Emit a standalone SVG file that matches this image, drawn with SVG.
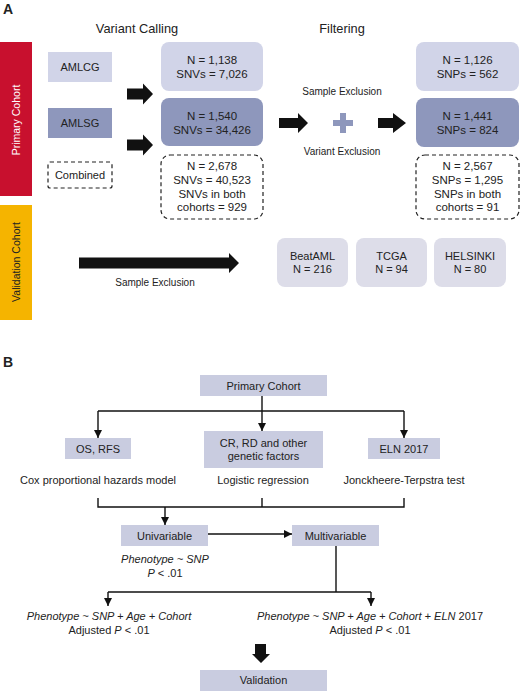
<svg xmlns="http://www.w3.org/2000/svg" width="520" height="691" viewBox="0 0 520 691">
<defs>
<style>
text{font-family:"Liberation Sans",Arial,sans-serif;fill:#222;}
.t{font-size:11.5px;text-anchor:middle;}
.s{font-size:11px;text-anchor:middle;}
.h{font-size:12.8px;text-anchor:middle;}
.ex{font-size:10px;text-anchor:middle;}
.lt{fill:#d1d4e8;}
.dk{fill:#8e97bc;}
.vb{fill:#dddde9;}
.pb{fill:#c9cce0;}
.dash{fill:none;stroke:#222;stroke-width:1.2;stroke-dasharray:4 3;}
.ln{fill:none;stroke:#111;stroke-width:1.4;}
.blk{fill:#111;}
.i{font-style:italic;}
</style>
<marker id="ah" viewBox="0 0 8 8" refX="8" refY="4" markerWidth="8" markerHeight="8" markerUnits="userSpaceOnUse" orient="auto">
<path d="M0,0 L8,4 L0,8 z" fill="#111"/>
</marker>
</defs>
<rect width="520" height="691" fill="#fff"/>

<!-- Panel A -->
<text x="3" y="14" style="font-size:14px;font-weight:bold">A</text>
<text class="h" x="137" y="33">Variant Calling</text>
<text class="h" x="342" y="33">Filtering</text>

<g id="primary-bar">
<rect x="0" y="42" width="32" height="154" fill="#c8102e"/>
<text transform="translate(20,120) rotate(-90)" style="font-size:10.5px;text-anchor:middle;fill:#fff">Primary Cohort</text>
</g>
<g id="validation-bar">
<rect x="0" y="205" width="32" height="115" fill="#f5b400"/>
<text transform="translate(20,262) rotate(-90)" style="font-size:10.5px;text-anchor:middle">Validation Cohort</text>
</g>

<g id="amlcg"><rect class="lt" x="48" y="52" width="64" height="30"/><text class="s" x="80" y="71">AMLCG</text></g>
<g id="amlsg"><rect class="dk" x="48" y="108" width="64" height="30"/><text class="s" x="80" y="127">AMLSG</text></g>
<g id="combined"><rect class="dash" x="48" y="162" width="64" height="26" rx="2"/><text class="s" x="80" y="179">Combined</text></g>

<g id="vc-amlcg"><rect class="lt" x="161" y="42" width="102" height="49" rx="8"/><text class="t" x="212" y="64">N = 1,138</text><text class="t" x="212" y="78">SNVs = 7,026</text></g>
<g id="vc-amlsg"><rect class="dk" x="161" y="98" width="102" height="48" rx="8"/><text class="t" x="212" y="120">N = 1,540</text><text class="t" x="212" y="134">SNVs = 34,426</text></g>
<g id="vc-combined"><rect class="dash" x="161" y="155" width="102" height="64" rx="9"/><text class="t" x="212" y="170">N = 2,678</text><text class="t" x="212" y="184">SNVs = 40,523</text><text class="t" x="212" y="198">SNVs in both</text><text class="t" x="212" y="211">cohorts = 929</text></g>

<g id="f-amlcg"><rect class="lt" x="416" y="42" width="103" height="49" rx="8"/><text class="t" x="467.5" y="64">N = 1,126</text><text class="t" x="467.5" y="78">SNPs = 562</text></g>
<g id="f-amlsg"><rect class="dk" x="416" y="98" width="103" height="49" rx="8"/><text class="t" x="467.5" y="120">N = 1,441</text><text class="t" x="467.5" y="134">SNPs = 824</text></g>
<g id="f-combined"><rect class="dash" x="416" y="155" width="103" height="64" rx="9"/><text class="t" x="467.5" y="170">N = 2,567</text><text class="t" x="467.5" y="184">SNPs = 1,295</text><text class="t" x="467.5" y="198">SNPs in both</text><text class="t" x="467.5" y="211">cohorts = 91</text></g>

<g id="filter-labels">
<text class="ex" x="342" y="95">Sample Exclusion</text>
<text class="ex" x="342" y="155">Variant Exclusion</text>
<path d="M340,113 h6 v7 h7 v6 h-7 v7 h-6 v-7 h-7 v-6 h7 z" fill="#8e97bc"/>
</g>

<g id="beataml"><rect class="vb" x="277" y="238" width="71" height="49" rx="8"/><text class="s" x="312.5" y="260">BeatAML</text><text class="s" x="312.5" y="273">N = 216</text></g>
<g id="tcga"><rect class="vb" x="356" y="238" width="71" height="49" rx="8"/><text class="s" x="391.5" y="260">TCGA</text><text class="s" x="391.5" y="273">N = 94</text></g>
<g id="helsinki"><rect class="vb" x="434" y="238" width="72" height="49" rx="8"/><text class="s" x="470" y="260">HELSINKI</text><text class="s" x="470" y="273">N = 80</text></g>

<g id="block-arrows">
<path class="blk" d="M127,88.5 h16 v-5 l10,10.5 l-10,10.5 v-5 h-16 z"/>
<path class="blk" d="M127,139.5 h16 v-5 l10,10.5 l-10,10.5 v-5 h-16 z"/>
<path class="blk" d="M279,118 h19 v-5 l10,10 l-10,10 v-5 h-19 z"/>
<path class="blk" d="M378,118 h15 v-5 l13,10 l-13,10 v-5 h-15 z"/>
<path class="blk" d="M79,257.5 h150 v-4.5 l10,10 l-10,10 v-4.5 h-150 z"/>
<path class="blk" d="M255,644 h11 v10 h4 l-9,9 l-9,-9 h3 z"/>
</g>
<text class="ex" x="155" y="286">Sample Exclusion</text>

<!-- Panel B -->
<text x="3" y="367" style="font-size:14px;font-weight:bold">B</text>

<g id="b-primary"><rect class="pb" x="200" y="375" width="127" height="21"/><text class="s" x="263.5" y="390">Primary Cohort</text></g>
<g id="b-os"><rect class="pb" x="65" y="438" width="66" height="21"/><text class="s" x="98" y="453">OS, RFS</text></g>
<g id="b-cr"><rect class="pb" x="204" y="431" width="119" height="37"/><text class="s" x="263.5" y="447">CR, RD and other</text><text class="s" x="263.5" y="460">genetic factors</text></g>
<g id="b-eln"><rect class="pb" x="368" y="438" width="72" height="21"/><text class="s" x="404" y="453">ELN 2017</text></g>

<text class="s" x="98" y="484">Cox proportional hazards model</text>
<text class="s" x="263" y="484">Logistic regression</text>
<text class="s" x="404" y="484">Jonckheere-Terpstra test</text>

<g id="b-uni"><rect class="pb" x="121" y="525" width="87" height="21"/><text class="s" x="164.5" y="540">Univariable</text></g>
<g id="b-multi"><rect class="pb" x="292" y="525" width="87" height="21"/><text class="s" x="335.5" y="540">Multivariable</text></g>

<text class="s" x="165" y="563"><tspan class="i">Phenotype ~ SNP</tspan></text>
<text class="s" x="165" y="577"><tspan class="i">P</tspan> &lt; .01</text>

<text class="s" x="109" y="620"><tspan class="i">Phenotype ~ SNP + Age + Cohort</tspan></text>
<text class="s" x="109" y="634">Adjusted <tspan class="i">P</tspan> &lt; .01</text>
<text class="s" x="370" y="620"><tspan class="i">Phenotype ~ SNP + Age + Cohort + ELN</tspan> 2017</text>
<text class="s" x="370" y="634">Adjusted <tspan class="i">P</tspan> &lt; .01</text>

<g id="b-validation"><rect class="pb" x="200" y="670" width="127" height="21"/><text class="s" x="263.5" y="684">Validation</text></g>

<g id="connectors">
<path class="ln" d="M262,396 V431" marker-end="url(#ah)"/>
<path class="ln" d="M98,411 H404"/>
<path class="ln" d="M98,411 V438" marker-end="url(#ah)"/>
<path class="ln" d="M404,411 V438" marker-end="url(#ah)"/>
<path class="ln" d="M98,498 V507 H404 V498"/>
<path class="ln" d="M262,498 V507"/>
<path class="ln" d="M165,507 V525" marker-end="url(#ah)"/>
<path class="ln" d="M208,534 H292" marker-end="url(#ah)"/>
<path class="ln" d="M336,546 V592"/>
<path class="ln" d="M108,592 H371"/>
<path class="ln" d="M108,592 V606" marker-end="url(#ah)"/>
<path class="ln" d="M371,592 V606" marker-end="url(#ah)"/>
</g>
</svg>
